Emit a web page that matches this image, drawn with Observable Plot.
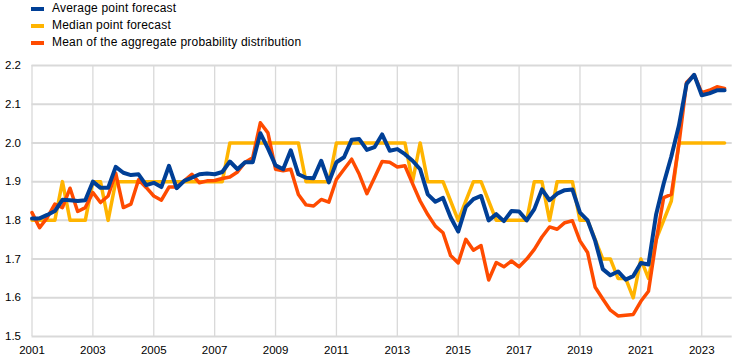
<!DOCTYPE html>
<html>
<head>
<meta charset="utf-8">
<script src="https://cdn.jsdelivr.net/npm/d3@7"></script>
<script src="https://cdn.jsdelivr.net/npm/@observablehq/plot@0.6"></script>
<style>
  html, body { margin: 0; padding: 0; background: #fff; }
  body { width: 743px; height: 361px; overflow: hidden; font-family: Arial, "Liberation Sans", sans-serif; }
  #legend { position: relative; height: 55px; font-size: 12px; color: #000; }
  .item { position: absolute; left: 0; height: 17px; line-height: 17px; white-space: nowrap; }
  .sw { position: absolute; left: 31px; top: 7px; width: 13px; height: 4px; }
  .lbl { position: absolute; left: 52px; top: 0; letter-spacing: 0.2px; }
  #chart svg { display: block; }
</style>
</head>
<body>
<div id="legend"></div>
<div id="chart"></div>
<script>
// Time axis categories
const years = [2001, 2002, 2003, 2004, 2005, 2006, 2007, 2008, 2009, 2010, 2011, 2012,
               2013, 2014, 2015, 2016, 2017, 2018, 2019, 2020, 2021, 2022, 2023];
const quarterNames = ["Q1", "Q2", "Q3", "Q4"];

// Series (quarterly, 2001Q1 - 2023Q4)
const averagePointForecast = [
  1.805, 1.805, 1.814, 1.824,
  1.853, 1.852, 1.850, 1.852,
  1.900, 1.884, 1.884, 1.938,
  1.923, 1.917, 1.919, 1.891,
  1.897, 1.886, 1.941, 1.883,
  1.902, 1.910, 1.919, 1.921,
  1.919, 1.925, 1.952, 1.932,
  1.950, 1.950, 2.025, 1.986,
  1.942, 1.932, 1.981, 1.919,
  1.910, 1.909, 1.954, 1.898,
  1.950, 1.963, 2.008, 2.010,
  1.982, 1.989, 2.022, 1.980,
  1.984, 1.971, 1.954, 1.932,
  1.867, 1.848, 1.858, 1.808,
  1.771, 1.835, 1.855, 1.863,
  1.800, 1.816, 1.798, 1.824,
  1.823, 1.800, 1.829, 1.880,
  1.852, 1.869, 1.878, 1.880,
  1.820, 1.800, 1.747, 1.674,
  1.658, 1.668, 1.647, 1.656,
  1.690, 1.686, 1.815, 1.895,
  1.965, 2.045, 2.152, 2.176,
  2.123, 2.128, 2.136, 2.136
];
const medianPointForecast = [
  1.8, 1.8, 1.8, 1.8,
  1.9, 1.8, 1.8, 1.8,
  1.9, 1.9, 1.8, 1.9,
  1.9, 1.9, 1.9, 1.9,
  1.9, 1.9, 1.9, 1.9,
  1.9, 1.9, 1.9, 1.9,
  1.9, 1.9, 2.0, 2.0,
  2.0, 2.0, 2.0, 2.0,
  2.0, 2.0, 2.0, 2.0,
  1.9, 1.9, 1.9, 1.9,
  2.0, 2.0, 2.0, 2.0,
  2.0, 2.0, 2.0, 2.0,
  2.0, 2.0, 1.9, 2.0,
  1.9, 1.9, 1.9, 1.85,
  1.8, 1.85, 1.9, 1.9,
  1.85, 1.8, 1.8, 1.8,
  1.8, 1.8, 1.9, 1.9,
  1.8, 1.9, 1.9, 1.9,
  1.8, 1.8, 1.75, 1.7,
  1.7, 1.65, 1.65, 1.6,
  1.7, 1.65, 1.75, 1.8,
  1.85, 2.0, 2.0, 2.0,
  2.0, 2.0, 2.0, 2.0
];
const meanAggregateDistribution = [
  1.820, 1.781, 1.807, 1.842,
  1.833, 1.883, 1.823, 1.833,
  1.872, 1.846, 1.863, 1.922,
  1.833, 1.842, 1.905, 1.885,
  1.863, 1.852, 1.886, 1.886,
  1.902, 1.919, 1.897, 1.902,
  1.903, 1.908, 1.912, 1.925,
  1.950, 1.962, 2.052, 2.026,
  1.932, 1.928, 1.932, 1.867,
  1.840, 1.837, 1.854, 1.847,
  1.906, 1.932, 1.958, 1.919,
  1.869, 1.910, 1.952, 1.950,
  1.938, 1.941, 1.895, 1.850,
  1.815, 1.785, 1.768, 1.709,
  1.690, 1.751, 1.723, 1.735,
  1.646, 1.691, 1.680, 1.695,
  1.680, 1.700, 1.725, 1.757,
  1.783, 1.777, 1.794, 1.799,
  1.747, 1.717, 1.627, 1.597,
  1.568, 1.553, 1.555, 1.557,
  1.591, 1.617, 1.747, 1.859,
  1.867, 1.997, 2.156, 2.176,
  2.130, 2.136, 2.145, 2.141
];

// Tick labels
const xTicks = [2001, 2003, 2005, 2007, 2009, 2011, 2013, 2015, 2017, 2019, 2021, 2023];
const yTicks = [1.5, 1.6, 1.7, 1.8, 1.9, 2.0, 2.1, 2.2];

const seriesNames = ["Average point forecast", "Median point forecast", "Mean of the aggregate probability distribution"];
const seriesColors = ["#003f96", "#ffb400", "#ff4b00"];

// Build table
const periods = years.flatMap(y => quarterNames.map((q, k) => ({year: y, q: k})));
const data = periods.map((p, i) => ({
  t: p.year + p.q / 4,
  avg: averagePointForecast[i],
  median: medianPointForecast[i],
  mean: meanAggregateDistribution[i]
}));

// Legend
const legend = document.getElementById("legend");
seriesNames.forEach((name, i) => {
  const item = document.createElement("div");
  item.className = "item";
  item.style.top = (i * 17) + "px";
  const sw = document.createElement("span");
  sw.className = "sw";
  sw.style.background = seriesColors[i];
  const lbl = document.createElement("span");
  lbl.className = "lbl";
  lbl.textContent = name;
  item.appendChild(sw);
  item.appendChild(lbl);
  legend.appendChild(item);
});

const chart = Plot.plot({
  width: 743,
  height: 306,
  marginTop: 10,
  marginBottom: 25,
  marginLeft: 31.5,
  marginRight: 11.3,
  style: {fontFamily: 'Arial, "Liberation Sans", sans-serif', fontSize: "11.5px", color: "#000", background: "#fff"},
  x: {domain: [2001, 2024], ticks: xTicks, tickFormat: d => String(d), tickSize: 0, tickPadding: 9, label: null},
  y: {domain: [1.5, 2.2], ticks: yTicks, tickFormat: d3.format(".1f"), tickSize: 0, tickPadding: 11, label: null},
  marks: [
    Plot.gridY(yTicks, {stroke: "#d9d9d9", strokeOpacity: 1, strokeWidth: 2}),
    Plot.gridX(xTicks, {stroke: "#d9d9d9", strokeOpacity: 1, strokeWidth: 1.3}),
    Plot.lineY(data, {x: "t", y: "median", stroke: seriesColors[1], strokeWidth: 3.5, strokeLinejoin: "round", strokeLinecap: "round"}),
    Plot.lineY(data, {x: "t", y: "mean", stroke: seriesColors[2], strokeWidth: 3.5, strokeLinejoin: "round", strokeLinecap: "round"}),
    Plot.lineY(data, {x: "t", y: "avg", stroke: seriesColors[0], strokeWidth: 4, strokeLinejoin: "round", strokeLinecap: "round"})
  ]
});
document.getElementById("chart").appendChild(chart);
</script>
</body>
</html>
